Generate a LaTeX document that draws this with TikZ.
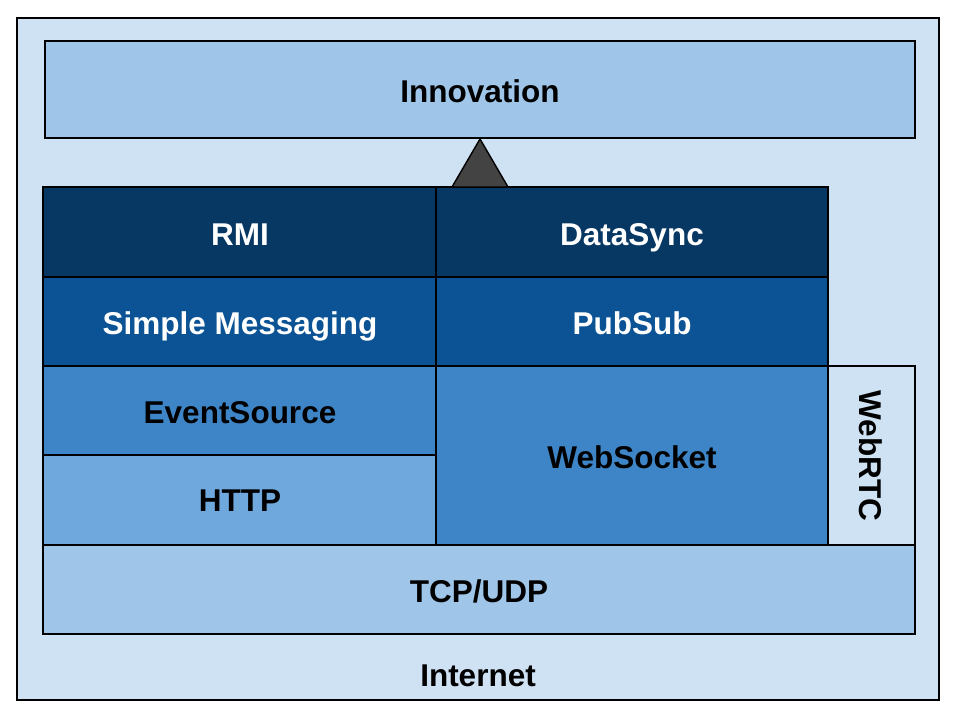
\documentclass[tikz,border=0pt]{standalone}
\usepackage{fontspec}
\setmainfont{Liberation Sans}
\begin{document}
\begin{tikzpicture}[x=1pt,y=-1pt,
  layer/.style={draw=black,line width=1.6pt,text=black},
  lbl/.style={font=\fontsize{31.5}{36}\selectfont\bfseries,text=black,inner sep=0pt,text height=22.5pt,text depth=0pt},
  dlbl/.style={lbl,text=white}]
\definecolor{c1}{HTML}{CFE2F3}
\definecolor{c2}{HTML}{9FC5E8}
\definecolor{c3}{HTML}{6FA8DC}
\definecolor{c4}{HTML}{3D85C6}
\definecolor{c5}{HTML}{0B5394}
\definecolor{c6}{HTML}{073763}
\definecolor{tri}{HTML}{434343}
\useasboundingbox (0,0) rectangle (960,720);
\draw[fill=c1,line width=1.6pt] (17,18) rectangle (939,700);
\node[lbl] (internet) at (478,675) {Internet};
% layers
\draw[layer,fill=c2] (45,41) rectangle (915,138);
\node[lbl] (innov) at (480,91) {Innovation};
\draw[layer,fill=c2] (43,545) rectangle (915,634);
\node[lbl] (tcp) at (479,591) {TCP/UDP};
\draw[layer,fill=c3] (43,455) rectangle (436,545);
\node[lbl] (http) at (240,500) {HTTP};
\draw[layer,fill=c4] (43,366) rectangle (436,455);
\node[lbl] (es) at (240,412) {EventSource};
\draw[layer,fill=c4] (436,366) rectangle (828,545);
\node[lbl] (ws) at (632,457) {WebSocket};
\draw[layer,fill=c1] (828,366) rectangle (915,545);
\node[lbl,rotate=-90] (rtc) at (871,456) {WebRTC};
\draw[layer,fill=c5] (43,277) rectangle (436,366);
\node[dlbl] (sm) at (240,323) {Simple Messaging};
\draw[layer,fill=c5] (436,277) rectangle (828,366);
\node[dlbl] (ps) at (632,323) {PubSub};
\draw[layer,fill=c6] (43,187) rectangle (436,277);
\node[dlbl] (rmi) at (240,234) {RMI};
\draw[layer,fill=c6] (436,187) rectangle (828,277);
\node[dlbl] (ds) at (632,234) {DataSync};
% triangle
\draw[fill=tri,line width=1.4pt,line join=miter] (480,139) -- (508,187) -- (452,187) -- cycle;
\end{tikzpicture}
\end{document}
